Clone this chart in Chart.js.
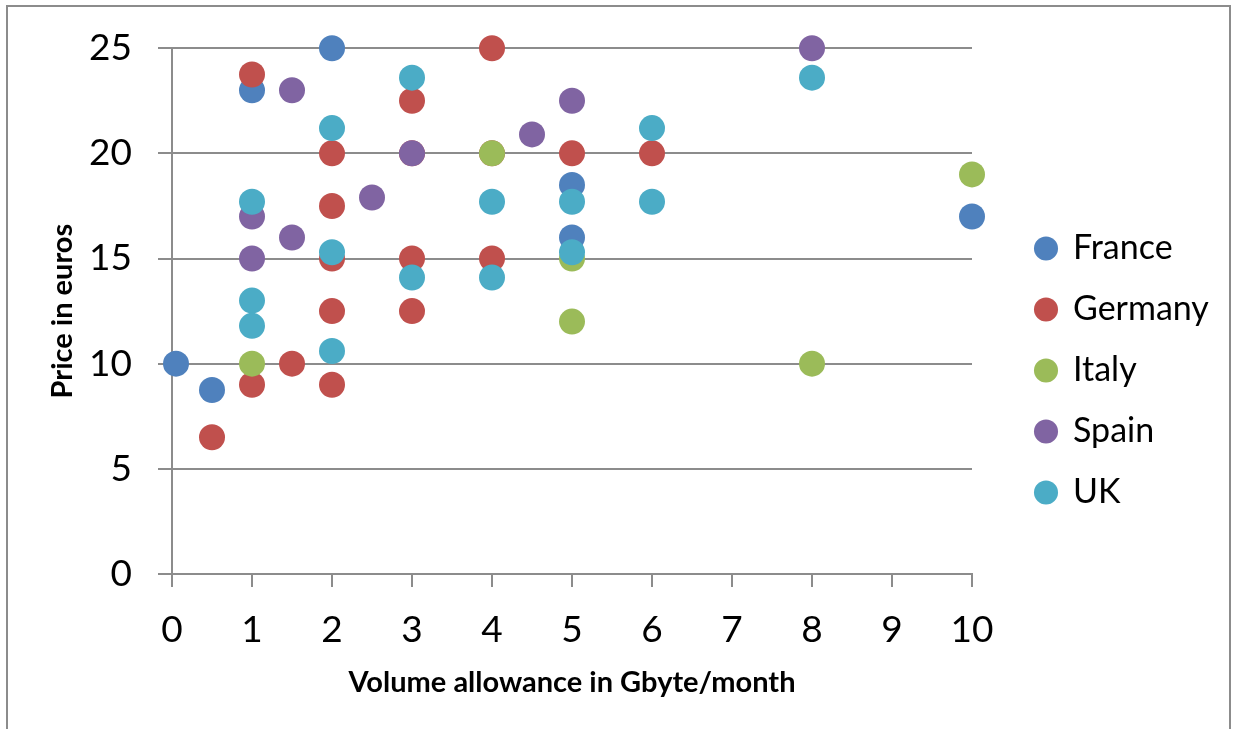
<!DOCTYPE html>
<html>
<head>
<meta charset="utf-8">
<script src="https://cdn.jsdelivr.net/npm/chart.js@4.4.1/dist/chart.umd.min.js"></script>
<style>
  html, body { margin: 0; padding: 0; background: #fff; overflow: hidden; }
  #frame { position: absolute; left: 6px; top: 5px; width: 1221px; height: 800px; border: 2px solid #8c8c8c; }
  #chart { position: absolute; left: 0; top: 0; }
</style>
</head>
<body>
<div id="frame"></div>
<canvas id="chart" width="1234" height="729"></canvas>
<script>
// data
const countries = ['France', 'Germany', 'Italy', 'Spain', 'UK'];
const colors = ['#4F81BD', '#C0504D', '#9BBB59', '#8064A2', '#4BACC6'];

const franceX = [0.05, 0.5, 1, 2, 5, 5, 10];
const franceY = [10, 8.75, 23, 25, 18.5, 16, 17];

const germanyX = [0.5, 1, 1, 1.5, 2, 2, 2, 2, 2, 3, 3, 3, 3, 4, 4, 4, 5, 6];
const germanyY = [6.5, 23.75, 9, 10, 20, 17.5, 15, 12.5, 9, 22.5, 20, 15, 12.5, 25, 20, 15, 20, 20];

const italyX = [1, 4, 5, 5, 8, 10];
const italyY = [10, 20, 15, 12, 10, 19];

const spainX = [1, 1, 1.5, 1.5, 2.5, 3, 4.5, 5, 8];
const spainY = [17, 15, 23, 16, 17.9, 20, 20.9, 22.5, 25];

const ukX = [1, 1, 1, 2, 2, 2, 3, 3, 4, 4, 5, 5, 6, 6, 8];
const ukY = [17.7, 13, 11.8, 21.2, 15.3, 10.6, 23.6, 14.1, 17.7, 14.1, 17.7, 15.3, 21.2, 17.7, 23.6];

const xTicks = [0, 1, 2, 3, 4, 5, 6, 7, 8, 9, 10];
const yTicks = [0, 5, 10, 15, 20, 25];

const seriesX = [franceX, germanyX, italyX, spainX, ukX];
const seriesY = [franceY, germanyY, italyY, spainY, ukY];

const gridColor = '#8c8c8c';

const datasets = countries.map((name, i) => ({
  label: name,
  data: seriesX[i].map((x, j) => ({ x: x, y: seriesY[i][j] })),
  backgroundColor: colors[i],
  borderWidth: 0,
  pointRadius: 13,
  pointHoverRadius: 13,
  pointStyle: 'circle',
  clip: false,
  // later series sit on top, like the original
  order: countries.length - i
}));

// keep the legend box a fixed width so the plot ends where the original does
const legendWidth = {
  id: 'legendWidth',
  beforeLayout(chart) {
    const legend = chart.legend;
    if (legend && !legend._fixedWidth) {
      const fit = legend.fit;
      legend.fit = function () {
        fit.call(this);
        this.width = 225;
      };
      legend._fixedWidth = true;
    }
  }
};

const ctx = document.getElementById('chart').getContext('2d');

new Chart(ctx, {
  type: 'scatter',
  data: { datasets: datasets },
  plugins: [legendWidth],
  options: {
    responsive: false,
    animation: false,
    devicePixelRatio: 1,
    layout: {
      padding: { left: 20, top: 47, bottom: 35, right: 0 }
    },
    plugins: {
      tooltip: { enabled: false },
      legend: {
        position: 'right',
        align: 'center',
        labels: {
          usePointStyle: true,
          pointStyle: 'circle',
          boxWidth: 20,
          boxHeight: 17,
          padding: 27,
          color: '#000',
          font: { family: 'Lato', size: 34 },
          sort: (a, b) => a.datasetIndex - b.datasetIndex
        }
      }
    },
    scales: {
      x: {
        type: 'linear',
        min: 0,
        max: 10,
        afterBuildTicks: (scale) => { scale.ticks = xTicks.map(v => ({ value: v })); },
        afterFit: (scale) => { scale.height = 120; },
        ticks: {
          color: '#000',
          padding: 21,
          font: { family: 'Lato', size: 37 }
        },
        grid: {
          drawOnChartArea: false,
          color: gridColor,
          lineWidth: 2,
          tickLength: 13
        },
        border: { color: gridColor, width: 2 },
        title: {
          display: true,
          text: 'Volume allowance in Gbyte/month',
          color: '#000',
          font: { family: 'Lato', size: 29, weight: 'bold' },
          padding: { top: 0, bottom: -6 }
        }
      },
      y: {
        type: 'linear',
        min: 0,
        max: 25,
        afterBuildTicks: (scale) => { scale.ticks = yTicks.map(v => ({ value: v })); },
        afterFit: (scale) => { scale.width = 152; },
        ticks: {
          color: '#000',
          padding: 26,
          font: { family: 'Lato', size: 37 }
        },
        grid: {
          color: gridColor,
          lineWidth: 2,
          tickLength: 14
        },
        border: { color: gridColor, width: 2 },
        title: {
          display: true,
          text: 'Price in euros',
          color: '#000',
          font: { family: 'Lato', size: 29, weight: 'bold' },
          padding: { top: 25, bottom: 0 }
        }
      },
      // empty spacer between the plot and the legend
      gap: {
        type: 'linear',
        position: 'right',
        display: true,
        afterFit: (scale) => { scale.width = 37; },
        ticks: { display: false },
        grid: { display: false },
        border: { display: false }
      }
    }
  }
});
</script>
</body>
</html>
